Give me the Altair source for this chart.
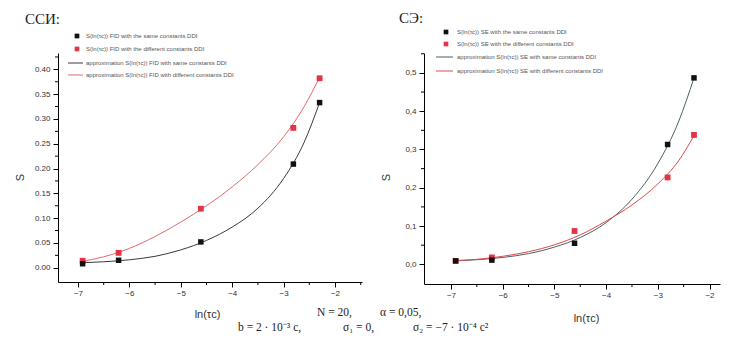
import altair as alt
import pandas as pd

# ---- data ----
x_pts = [-6.91, -6.21, -4.61, -2.81, -2.30]
ssi_same = [0.008, 0.015, 0.052, 0.209, 0.333]
ssi_diff = [0.014, 0.030, 0.119, 0.282, 0.382]
se_same = [0.009, 0.011, 0.055, 0.313, 0.487]
se_diff = [0.009, 0.018, 0.087, 0.227, 0.338]

fit_x = [-6.91, -6.5, -6.0, -5.5, -5.0, -4.5, -4.0, -3.5, -3.0, -2.6, -2.3]
ssi_same_fit = [0.010, 0.012, 0.016, 0.023, 0.036, 0.055, 0.082, 0.120, 0.180, 0.253, 0.333]
ssi_diff_fit = [0.013, 0.022, 0.039, 0.063, 0.092, 0.125, 0.163, 0.208, 0.264, 0.325, 0.384]
se_same_fit = [0.009, 0.012, 0.018, 0.028, 0.045, 0.070, 0.109, 0.170, 0.263, 0.372, 0.487]
se_diff_fit = [0.010, 0.013, 0.021, 0.033, 0.051, 0.077, 0.113, 0.155, 0.210, 0.270, 0.336]

x_ticks = [-7, -6, -5, -4, -3, -2]
x_minor = [-6.5, -5.5, -4.5, -3.5, -2.5, -1.5]
ssi_y_ticks = [0.00, 0.05, 0.10, 0.15, 0.20, 0.25, 0.30, 0.35, 0.40]
ssi_y_minor = [0.025, 0.075, 0.125, 0.175, 0.225, 0.275, 0.325, 0.375, 0.425]
se_y_ticks = [0.0, 0.1, 0.2, 0.3, 0.4, 0.5]
se_y_minor = [0.05, 0.15, 0.25, 0.35, 0.45, 0.55]

ssi_legend = [
    "S(ln(τc)) FID with the same constants DDI",
    "S(ln(τc)) FID with the different constants DDI",
    "approximation S(ln(τc)) FID with same constants DDI",
    "approximation S(ln(τc)) FID with different constants DDI",
]
se_legend = [
    "S(ln(τc)) SE with the same constants DDI",
    "S(ln(τc)) SE with the different constants DDI",
    "approximation S(ln(τc)) SE with same constants DDI",
    "approximation S(ln(τc)) SE with different constants DDI",
]

SANS = "Liberation Sans"
SERIF = "Liberation Serif"
BLACK_PT = "#111111"
RED_PT = "#e23444"


def one(text):
    return pd.DataFrame({"t": [text]})


def panel(same, diff, same_fit, diff_fit, xdom, ydom, w, h, yticks, yminor,
          ylabel_expr, line_colors, legend_labels, leg, title, title_xy,
          xtitle_x, xtitle_y, extra_texts):
    xs = alt.Scale(domain=xdom, nice=False, zero=False)
    ys = alt.Scale(domain=ydom, nice=False, zero=False)
    xmn = [v for v in x_minor if xdom[0] <= v <= xdom[1]]
    ymn = [v for v in yminor if ydom[0] <= v <= ydom[1]]

    ax_x = alt.Axis(values=x_ticks, title="ln(τc)", grid=False, domainColor="black",
                    domainWidth=1, tickColor="black", tickSize=5, tickWidth=1,
                    labelFont=SANS, labelFontSize=8, labelColor="#333", labelPadding=2,
                    titleFont=SANS, titleFontSize=11, titleFontWeight="normal",
                    titleColor="#333", titleX=xtitle_x, titleY=xtitle_y,
                    titleBaseline="middle", titleAlign="center", orient="bottom")
    ax_y = alt.Axis(values=yticks, title="S", grid=False, domainColor="black",
                    domainWidth=1, tickColor="black", tickSize=5, tickWidth=1,
                    labelExpr=ylabel_expr, labelFont=SANS, labelFontSize=8,
                    labelColor="#333", labelPadding=3,
                    titleFont=SANS, titleFontSize=11, titleFontWeight="normal",
                    titleColor="#333", titleX=-38, titleY=124, titleAngle=-90,
                    titleBaseline="middle", titleAlign="center", orient="left")

    fs = pd.DataFrame({"x": fit_x, "y": same_fit})
    fd = pd.DataFrame({"x": fit_x, "y": diff_fit})
    ps = pd.DataFrame({"x": x_pts, "y": same})
    pdf = pd.DataFrame({"x": x_pts, "y": diff})

    X0 = alt.X("x:Q", scale=xs, axis=ax_x)
    Y0 = alt.Y("y:Q", scale=ys, axis=ax_y)

    line_s = alt.Chart(fs).mark_line(color=line_colors[0], strokeWidth=1,
                                     interpolate="monotone").encode(x=X0, y=Y0)
    line_d = alt.Chart(fd).mark_line(color=line_colors[1], strokeWidth=1,
                                     interpolate="monotone").encode(x=X0, y=Y0)
    pts_d = alt.Chart(pdf).mark_square(color=RED_PT, size=34, opacity=1).encode(
        x=X0, y=Y0)
    pts_s = alt.Chart(ps).mark_square(color=BLACK_PT, size=30, opacity=1).encode(
        x=X0, y=Y0)

    # minor axis ticks
    minor_x = alt.Chart(pd.DataFrame({"x": xmn})).mark_tick(
        orient="vertical", size=3, thickness=1, color="black", opacity=1).encode(
        x=X0, y=alt.value(h + 1.5))
    minor_y = alt.Chart(pd.DataFrame({"y": ymn})).mark_tick(
        orient="horizontal", size=3, thickness=1, color="black", opacity=1).encode(
        y=Y0, x=alt.value(-1.5))

    layers = [line_s, line_d, pts_d, pts_s, minor_x, minor_y]

    mx, tx, lx1, lx2, rows = leg
    layers.append(alt.Chart(one("a")).mark_square(color=BLACK_PT, size=22, opacity=1)
                  .encode(x=alt.value(mx), y=alt.value(rows[0])))
    layers.append(alt.Chart(one("a")).mark_square(color=RED_PT, size=22, opacity=1)
                  .encode(x=alt.value(mx), y=alt.value(rows[1])))
    layers.append(alt.Chart(one("a")).mark_rule(color=line_colors[0], strokeWidth=1)
                  .encode(x=alt.value(lx1), x2=alt.value(lx2), y=alt.value(rows[2])))
    layers.append(alt.Chart(one("a")).mark_rule(color=line_colors[1], strokeWidth=1)
                  .encode(x=alt.value(lx1), x2=alt.value(lx2), y=alt.value(rows[3])))
    for lab, ry in zip(legend_labels, rows):
        layers.append(alt.Chart(one(lab)).mark_text(
            font=SANS, fontSize=6, color="#555", align="left", baseline="middle")
            .encode(x=alt.value(tx), y=alt.value(ry), text="t:N"))

    layers.append(alt.Chart(one(title)).mark_text(
        font=SERIF, fontSize=15, color="#222", align="left", baseline="middle")
        .encode(x=alt.value(title_xy[0]), y=alt.value(title_xy[1]), text="t:N"))

    for txt, px, py in extra_texts:
        layers.append(alt.Chart(one(txt)).mark_text(
            font=SERIF, fontSize=11.5, color="#222", align="left", baseline="middle")
            .encode(x=alt.value(px), y=alt.value(py), text="t:N"))

    return alt.layer(*layers).properties(width=w, height=h)


formula = [
    ("N = 20,", 259, 260),
    ("α = 0,05,", 322, 260),
    ("b = 2 · 10⁻³ с,", 180, 275),
    ("σ₁ = 0,", 285, 275),
    ("σ₂ = −7 · 10⁻⁴ с²", 355, 275),
]

left = panel(ssi_same, ssi_diff, ssi_same_fit, ssi_diff_fit,
             [-7.389, -1.475], [-0.0288, 0.433], 304, 229,
             ssi_y_ticks, ssi_y_minor, "format(datum.value, '.2f')",
             ["#3a3a3a", "#e26a6a"], ssi_legend,
             (19, 28, 10, 25, [-17, -4, 10, 22]),
             "ССИ:", (-33, -34), 149, 32, formula)

right = panel(se_same, se_diff, se_same_fit, se_diff_fit,
              [-7.522, -1.797], [-0.0514, 0.552], 296, 231,
              se_y_ticks, se_y_minor,
              "replace(format(datum.value, '.1f'), '.', ',')",
              ["#4a6262", "#d94a4a"], se_legend,
              (22, 33, 12, 29, [-21, -9, 4, 18]),
              "СЭ:", (-25, -35), 162, 34, [])

chart = alt.hconcat(left, right, spacing=62, bounds="flush").properties(
    padding={"left": 6, "top": 3, "right": 2, "bottom": 0},
    background="white",
).configure_view(stroke=None)

chart.save("out.html", embed_options={"renderer": "svg", "actions": False})
